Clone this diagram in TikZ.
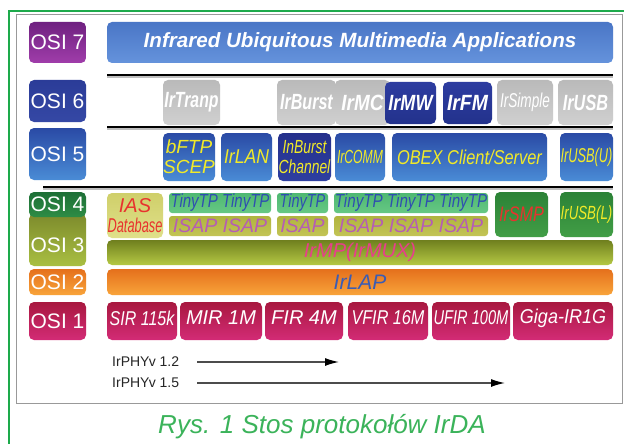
\documentclass[tikz,border=0pt]{standalone}
\usepackage{fontspec}
\setmainfont{Liberation Sans}
\usetikzlibrary{arrows.meta}
\definecolor{frgreen}{HTML}{1DAA4B}
\definecolor{capgreen}{HTML}{3BB35A}
\definecolor{ylw}{HTML}{F2EA28}
\definecolor{tpblue}{HTML}{2F4FB0}
\definecolor{isappink}{HTML}{B55DB5}
\definecolor{redtxt}{HTML}{E8322E}
\definecolor{mppink}{HTML}{E83E8C}
\definecolor{lapblue}{HTML}{3A5CB5}
\newcommand\fs[1]{\fontsize{#1}{#1}\selectfont}
\newcommand\fsb[2]{\fontsize{#1}{#2}\selectfont}
\newcommand\cx[2]{\scalebox{#1}[1]{#2}}
\newcommand\mkbox[8]{%
  \node[#1, minimum width={#4pt-#2pt}, minimum height={#5pt-#3pt}] (#6) at ({(#2+#4)/2},{(#3+#5)/2}) {};
  \node[txt, #7] (#6t) at (#6.center) {#8};}
\tikzset{
  box/.style={rounded corners=5pt, inner sep=0pt, draw=none},
  txt/.style={inner sep=0pt, align=center},
  osi7c/.style={box, top color={rgb,255:red,111;green,33;blue,128}, bottom color={rgb,255:red,160;green,61;blue,170}},
  appc/.style={box, top color={rgb,255:red,74;green,118;blue,198}, bottom color={rgb,255:red,101;green,147;blue,220}},
  osi6c/.style={box, top color={rgb,255:red,43;green,60;blue,152}, bottom color={rgb,255:red,53;green,72;blue,165}},
  grayc/.style={box, top color={rgb,255:red,186;green,186;blue,186}, bottom color={rgb,255:red,208;green,208;blue,208}},
  dblc/.style={box, top color={rgb,255:red,45;green,60;blue,160}, bottom color={rgb,255:red,35;green,50;blue,140}},
  bluec/.style={box, top color={rgb,255:red,42;green,74;blue,165}, bottom color={rgb,255:red,74;green,140;blue,214}},
  inbc/.style={box, top color={rgb,255:red,37;green,48;blue,140}, bottom color={rgb,255:red,46;green,63;blue,160}},
  osi4c/.style={box, top color={rgb,255:red,29;green,111;blue,54}, bottom color={rgb,255:red,46;green,140;blue,69}},
  osi3c/.style={box, top color={rgb,255:red,125;green,139;blue,44}, bottom color={rgb,255:red,169;green,191;blue,66}},
  iasc/.style={box, top color={rgb,255:red,207;green,207;blue,106}, bottom color={rgb,255:red,224;green,224;blue,138}},
  tinyc/.style={box, rounded corners=3pt, top color={rgb,255:red,79;green,184;blue,114}, bottom color={rgb,255:red,102;green,200;blue,132}},
  isapc/.style={box, rounded corners=3pt, top color={rgb,255:red,176;green,180;blue,62}, bottom color={rgb,255:red,195;green,196;blue,85}},
  smpc/.style={box, top color={rgb,255:red,43;green,130;blue,54}, bottom color={rgb,255:red,66;green,158;blue,70}},
  mpc/.style={box, top color={rgb,255:red,111;green,127;blue,30}, bottom color={rgb,255:red,181;green,201;blue,68}},
  orc/.style={box, top color={rgb,255:red,229;green,112;blue,28}, bottom color={rgb,255:red,248;green,164;blue,58}},
  phc/.style={box, top color={rgb,255:red,168;green,24;blue,63}, bottom color={rgb,255:red,211;green,43;blue,118}},
  osit/.style={text=white, font=\fs{21}},
  w6/.style={text=white, font=\fs{22}\bfseries\itshape},
  y5/.style={text=ylw, font=\fs{19}\itshape},
  tpt/.style={text=tpblue, font=\fs{19}\itshape},
  pht/.style={text=white, font=\fs{20}\itshape, yshift=3pt},
  sepline/.style={line width=2pt, black},
  sepshadow/.style={line width=1.5pt, black!25},
  phyarrow/.style={line width=1.4pt, black!70, -{Latex[length=14pt,width=8pt,black]}},
}
\begin{document}
\begin{tikzpicture}[x=1pt,y=-1pt]
\useasboundingbox (0,0) rectangle (624,444);
\fill[white] (0,0) rectangle (624,444);
% frames
\coordinate (fa) at (16,14); \coordinate (fb) at (622,403);
\draw[black!40, line width=0.9pt] (fa) rectangle (fb);
\coordinate (g1) at (9,444); \coordinate (g2) at (9,11); \coordinate (g3) at (624,11);
\draw[frgreen, line width=2.2pt] (g1) -- (g2) -- (g3);
% OSI labels
\mkbox{osi7c}{29}{22}{86}{63}{osi7}{osit}{OSI 7}
\mkbox{osi6c}{29}{80}{86}{122}{osi6}{osit}{OSI 6}
\mkbox{bluec}{29}{128}{86}{180}{osi5}{osit}{OSI 5}
\mkbox{osi3c}{29}{214}{86}{266}{osi3}{osit,yshift=-5pt}{OSI 3}
\mkbox{osi4c}{29}{192}{86}{217}{osi4}{osit}{OSI 4}
\mkbox{orc}{29}{269}{86}{295}{osi2}{osit}{OSI 2}
\mkbox{phc}{29}{302}{86}{340}{osi1}{osit}{OSI 1}
% layer 7
\mkbox{appc}{107}{22}{613}{63}{app}{text=white,font=\fs{20.6}\bfseries\itshape}{Infrared Ubiquitous Multimedia Applications}
% separators
\coordinate (s1a) at (107,75); \coordinate (s1b) at (613,75);
\coordinate (s2a) at (107,127); \coordinate (s2b) at (613,127);
\coordinate (s3a) at (43,187); \coordinate (s3b) at (613,187);
\coordinate (s1c) at (107,77); \coordinate (s1d) at (613,77);
\coordinate (s2c) at (107,129); \coordinate (s2d) at (613,129);
\coordinate (s3c) at (43,189); \coordinate (s3d) at (613,189);
\draw[sepshadow] (s1c) -- (s1d); \draw[sepshadow] (s2c) -- (s2d); \draw[sepshadow] (s3c) -- (s3d);
\draw[sepline] (s1a) -- (s1b); \draw[sepline] (s2a) -- (s2b); \draw[sepline] (s3a) -- (s3b);
% layer 6
\mkbox{grayc}{163}{80}{220}{125}{irtranp}{w6}{\cx{0.72}{IrTranp}}
\mkbox{grayc}{277}{80}{336}{125}{irburst}{w6}{\cx{0.73}{IrBurst}}
\mkbox{grayc}{335}{80}{390}{125}{irmc}{w6}{\cx{0.86}{IrMC}}
\mkbox{dblc}{385}{82}{436}{124}{irmw}{w6}{\cx{0.82}{IrMW}}
\mkbox{dblc}{443}{82}{492}{124}{irfm}{w6}{\cx{0.88}{IrFM}}
\mkbox{grayc}{497}{80}{553}{125}{irsimple}{text=white,font=\fs{20}\itshape}{\cx{0.68}{IrSimple}}
\mkbox{grayc}{558}{80}{613}{125}{irusb}{w6}{\cx{0.74}{IrUSB}}
% layer 5
\mkbox{bluec}{163}{133}{215}{181}{bftp}{y5,font=\fsb{19}{20}\itshape}{bFTP\\SCEP}
\mkbox{bluec}{221}{133}{272}{181}{irlan}{y5,font=\fs{20}\itshape}{\cx{0.88}{IrLAN}}
\mkbox{inbc}{278}{133}{331}{181}{inburst}{y5,font=\fsb{19}{20}\itshape}{\cx{0.73}{InBurst}\\\cx{0.73}{Channel}}
\mkbox{bluec}{335}{133}{385}{181}{ircomm}{y5,font=\fs{19}\itshape}{\cx{0.64}{IrCOMM}}
\mkbox{bluec}{392}{133}{547}{181}{obex}{y5,font=\fs{20}\itshape}{\cx{0.82}{OBEX Client/Server}}
\mkbox{bluec}{560}{133}{613}{181}{irusbu}{y5,font=\fs{20}\itshape}{\cx{0.64}{IrUSB(U)}}
% layer 4/3 upper
\mkbox{iasc}{107}{193}{163}{238}{ias}{text=redtxt,font=\fsb{20}{20}\itshape}{IAS\\\cx{0.64}{Database}}
\mkbox{tinyc}{169}{193}{271}{213}{tiny1}{tpt}{\cx{0.79}{TinyTP TinyTP}}
\mkbox{isapc}{169}{216}{271}{236}{isap1}{text=isappink,font=\fs{19.5}\itshape}{ISAP ISAP}
\mkbox{tinyc}{277}{193}{328}{213}{tiny2}{tpt}{\cx{0.76}{TinyTP}}
\mkbox{isapc}{277}{216}{328}{236}{isap2}{text=isappink,font=\fs{19.5}\itshape}{ISAP}
\mkbox{tinyc}{334}{193}{488}{213}{tiny3}{tpt}{\cx{0.8}{TinyTP TinyTP TinyTP}}
\mkbox{isapc}{334}{216}{488}{236}{isap3}{text=isappink,font=\fs{19.5}\itshape}{ISAP ISAP ISAP}
\mkbox{smpc}{495}{192}{548}{237}{irsmp}{text=redtxt,font=\fs{21}\itshape}{\cx{0.77}{IrSMP}}
\mkbox{smpc}{560}{192}{613}{237}{irusbl}{text=ylw,font=\fs{19}\itshape}{\cx{0.7}{IrUSB(L)}}
% layer 3, 2
\mkbox{mpc}{107}{240}{613}{265}{irmp}{text=mppink,font=\fs{20}\itshape}{IrMP(IrMUX)}
\mkbox{orc}{107}{269}{613}{295}{irlap}{text=lapblue,font=\fs{21}\itshape}{IrLAP}
% layer 1
\mkbox{phc}{107}{302}{177}{340}{sir}{pht}{\cx{0.8}{SIR 115k}}
\mkbox{phc}{180}{302}{262}{340}{mir}{pht}{MIR 1M}
\mkbox{phc}{265}{302}{343}{340}{fir}{pht}{FIR 4M}
\mkbox{phc}{348}{302}{428}{340}{vfir}{pht}{\cx{0.81}{VFIR 16M}}
\mkbox{phc}{432}{302}{510}{340}{ufir}{pht}{\cx{0.73}{UFIR 100M}}
\mkbox{phc}{513}{302}{613}{340}{giga}{pht}{\cx{0.9}{Giga-IR1G}}
% IrPHY versions
\node[txt, anchor=west, font=\fs{14}, text=black!85] (phy12) at (112,362) {IrPHYv 1.2};
\node[txt, anchor=west, font=\fs{14}, text=black!85] (phy15) at (112,383) {IrPHYv 1.5};
\coordinate (a12s) at (197,362); \coordinate (a12e) at (339,362);
\coordinate (a15s) at (197,383); \coordinate (a15e) at (505,383);
\draw[phyarrow] (a12s) -- (a12e);
\draw[phyarrow] (a15s) -- (a15e);
% caption
\node[txt, font=\fs{26}\itshape, text=capgreen] (cap) at (322,427) {Rys. 1 Stos protokołów IrDA};
\end{tikzpicture}
\end{document}
